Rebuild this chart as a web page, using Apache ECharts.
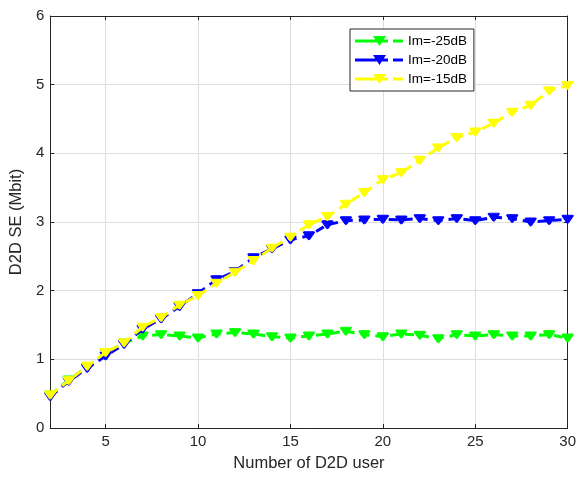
<!DOCTYPE html>
<html>
<head>
<meta charset="utf-8">
<script src="https://cdn.jsdelivr.net/npm/echarts@6/dist/echarts.min.js"></script>
<style>
  html, body { margin: 0; padding: 0; background: #ffffff; }
  #chart { width: 579px; height: 478px; }
</style>
</head>
<body>
<div id="chart"></div>
<script>
// Number of D2D users on the x axis
const users = [2, 3, 4, 5, 6, 7, 8, 9, 10, 11, 12, 13, 14, 15, 16, 17, 18, 19, 20,
               21, 22, 23, 24, 25, 26, 27, 28, 29, 30];

// D2D spectral efficiency (Mbit) for each interference margin
const seIm25 = [0.48, 0.70, 0.89, 1.10, 1.24, 1.34, 1.36, 1.34, 1.31, 1.37, 1.39, 1.37, 1.33, 1.31,
                1.34, 1.37, 1.41, 1.36, 1.33, 1.37, 1.35, 1.30, 1.36, 1.34, 1.36, 1.34, 1.34, 1.36, 1.31];
const seIm20 = [0.46, 0.68, 0.87, 1.05, 1.22, 1.44, 1.59, 1.77, 1.96, 2.16, 2.28, 2.48, 2.61, 2.74,
                2.80, 2.96, 3.02, 3.03, 3.04, 3.03, 3.05, 3.02, 3.05, 3.02, 3.07, 3.05, 3.00, 3.02, 3.04];
const seIm15 = [0.48, 0.69, 0.90, 1.10, 1.24, 1.47, 1.61, 1.79, 1.93, 2.11, 2.27, 2.44, 2.62, 2.78,
                2.96, 3.08, 3.26, 3.43, 3.62, 3.72, 3.90, 4.08, 4.23, 4.31, 4.44, 4.60, 4.70, 4.91, 4.99];

const seriesNames = ['Im=-25dB', 'Im=-20dB', 'Im=-15dB'];

// Tick values
const xTicks = [5, 10, 15, 20, 25, 30];
const yTicks = [0, 1, 2, 3, 4, 5, 6];

const INK = '#262626';
const FONT = '"Liberation Sans", Arial, Helvetica, sans-serif';

// Legend glyph: solid stroke with a down-pointing marker, then a short dash
const legendIcon = 'path://M0 3.5h33v3H0z M18 0h13l-6.5 10z M38 3.5h10v3H38z';

// Squat, slightly rounded down-pointing marker
const markerPath = 'path://M1 0h10q1 0 0.6 1l-4.8 7q-0.8 1-1.6 0l-4.8-7q-0.4-1 0.6-1z';

function pairs(ys) {
  return users.map((u, i) => [u, ys[i]]);
}

function lineSeries(name, ys, color, z) {
  return {
    name: name,
    type: 'line',
    data: pairs(ys),
    z: z,
    symbol: markerPath,
    symbolKeepAspect: false,
    symbolSize: [11, 8],
    showSymbol: true,
    itemStyle: { color: color, borderColor: color, borderWidth: 1, opacity: 1 },
    lineStyle: { color: color, width: 3, type: [9, 6] },
    emphasis: { disabled: true },
    animation: false
  };
}

const chart = echarts.init(document.getElementById('chart'), null, { renderer: 'canvas' });

const xBase = {
  type: 'value', min: 2, max: 30,
  axisLine: { show: true, onZero: false, lineStyle: { color: INK, width: 1 } },
  axisTick: { show: true, inside: true, length: 4, customValues: xTicks, lineStyle: { color: INK } }
};
const yBase = {
  type: 'value', min: 0, max: 6, interval: 1,
  axisLine: { show: true, onZero: false, lineStyle: { color: INK, width: 1 } },
  axisTick: { show: true, inside: true, length: 4, customValues: yTicks, lineStyle: { color: INK } }
};

chart.setOption({
  backgroundColor: '#ffffff',
  animation: false,
  grid: { left: 46, right: 11, top: 16, bottom: 50, containLabel: false },
  legend: {
    orient: 'vertical',
    left: 350, top: 29,
    padding: [5, 7, 5, 5],
    itemGap: 5,
    itemWidth: 48, itemHeight: 10,
    icon: legendIcon,
    itemStyle: { borderWidth: 0 },
    backgroundColor: '#ffffff',
    borderColor: INK, borderWidth: 1,
    textStyle: { color: '#000000', fontFamily: FONT, fontSize: 13.5, lineHeight: 14 },
    data: seriesNames,
    selectedMode: false
  },
  xAxis: [
    Object.assign({}, xBase, {
      position: 'bottom',
      name: 'Number of D2D user', nameLocation: 'middle', nameGap: 27,
      nameTextStyle: { color: INK, fontFamily: FONT, fontSize: 16.5 },
      axisLabel: { show: true, customValues: xTicks, margin: 6, color: INK, fontFamily: FONT, fontSize: 15 },
      splitLine: { show: true, lineStyle: { color: '#dedede', width: 1 } }
    }),
    Object.assign({}, xBase, {
      position: 'top',
      axisLabel: { show: false },
      splitLine: { show: false }
    })
  ],
  yAxis: [
    Object.assign({}, yBase, {
      position: 'left',
      name: 'D2D SE (Mbit)', nameLocation: 'middle', nameGap: 23,
      nameTextStyle: { color: INK, fontFamily: FONT, fontSize: 16.5 },
      axisLabel: { show: true, margin: 6, color: INK, fontFamily: FONT, fontSize: 15 },
      splitLine: { show: true, lineStyle: { color: '#dedede', width: 1 } }
    }),
    Object.assign({}, yBase, {
      position: 'right',
      axisLabel: { show: false },
      splitLine: { show: false }
    })
  ],
  series: [
    lineSeries(seriesNames[0], seIm25, '#00ff00', 2),
    lineSeries(seriesNames[1], seIm20, '#0000ff', 3),
    lineSeries(seriesNames[2], seIm15, '#ffff00', 4)
  ]
});
</script>
</body>
</html>
